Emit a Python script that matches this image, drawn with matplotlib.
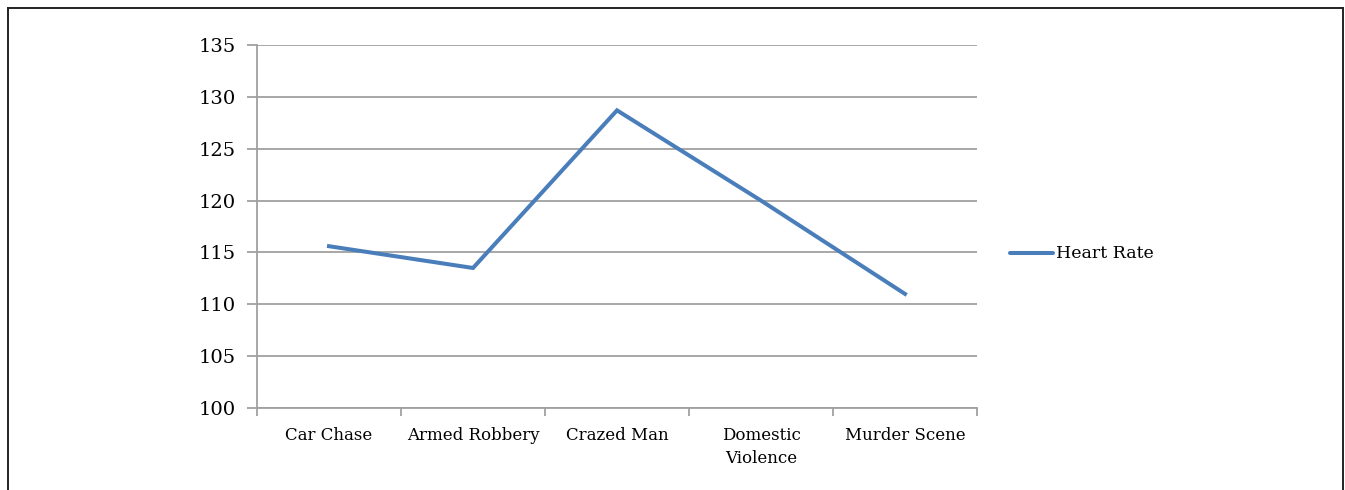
import numpy as np
import matplotlib
matplotlib.use('Agg')
from matplotlib import pyplot as plt
from matplotlib.lines import Line2D

categories = ['Car Chase', 'Armed Robbery', 'Crazed Man', 'Domestic\nViolence', 'Murder Scene']
heart_rate = [115.6, 113.5, 128.7, 120.0, 111.0]
y_ticks = [100, 105, 110, 115, 120, 125, 130, 135]

W, H, DPI = 1345, 490, 100
grid_col = '#a0a0a0'
line_col = '#4a7ebb'

plt.rcParams['font.family'] = ['DejaVu Serif']

fig = plt.figure(figsize=(W / DPI, H / DPI), dpi=DPI)
ax = fig.add_axes([257 / W, 1 - 408 / H, (977 - 257) / W, (408 - 45) / H])

x = np.arange(len(categories))
ax.plot(x, heart_rate, color=line_col, lw=2.9, solid_joinstyle='miter', label='Heart Rate', zorder=3)

ax.set_xlim(-0.5, len(categories) - 0.5)
ax.set_ylim(100, 135)
ax.set_yticks(y_ticks)
ax.yaxis.grid(True, color=grid_col, lw=1.3)
ax.set_axisbelow(True)

# category labels between boundary ticks
ax.set_xticks(np.arange(len(categories) + 1) - 0.5)
ax.set_xticklabels([])
ax.set_xticks(x, minor=True)
ax.set_xticklabels(categories, minor=True, fontsize=12, va='top', ha='center', linespacing=1.45)
ax.tick_params(axis='x', which='minor', length=0, pad=14)
ax.tick_params(axis='x', which='major', length=6, width=1.3, color=grid_col, direction='out')
ax.tick_params(axis='y', length=7, width=1.3, color=grid_col, labelsize=14, pad=8)

for s in ['top', 'right']:
    ax.spines[s].set_visible(False)
for s in ['left', 'bottom']:
    ax.spines[s].set_color(grid_col)
    ax.spines[s].set_linewidth(1.3)

# legend drawn manually to the right of the plot area
fig.add_artist(Line2D([1010 / W, 1053 / W], [1 - 253 / H] * 2, color=line_col, lw=2.9,
                      solid_capstyle='round'))
fig.text(1056 / W, 1 - 253 / H, 'Heart Rate', fontsize=12.5, va='center', ha='left')

# outer frame
frame_kw = dict(color='#222222', lw=1.4)
fig.add_artist(Line2D([8 / W, 8 / W], [0, 1 - 8 / H], **frame_kw))
fig.add_artist(Line2D([8 / W, 1343 / W], [1 - 8 / H, 1 - 8 / H], **frame_kw))
fig.add_artist(Line2D([1343 / W, 1343 / W], [0, 1 - 8 / H], **frame_kw))

fig.savefig('out.png', dpi=DPI)
